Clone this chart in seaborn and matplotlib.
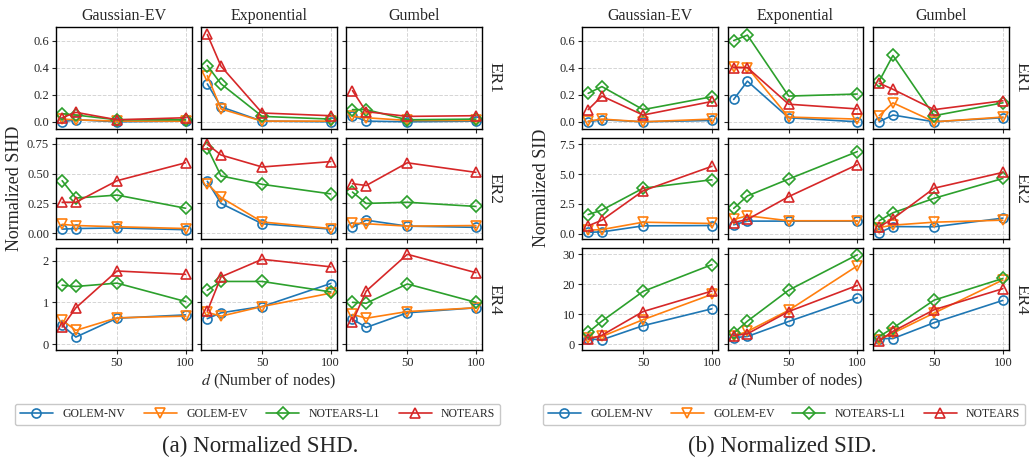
import matplotlib
matplotlib.use("Agg")
import numpy as np
import pandas as pd
import matplotlib.pyplot as plt
from matplotlib.lines import Line2D
from matplotlib.ticker import FormatStrFormatter
import seaborn as sns

# -----------------------------
# Data
# -----------------------------
nodes = [10, 20, 50, 100]
methods = ["GOLEM-NV", "GOLEM-EV", "NOTEARS-L1", "NOTEARS"]
noise_types = ["Gaussian-EV", "Exponential", "Gumbel"]
graph_types = ["ER1", "ER2", "ER4"]

# rows follow `methods`, columns follow `nodes`
shd_er1_gauss = [[0.00, 0.015, 0.00, 0.005], [0.02, 0.015, 0.005, 0.005],
                 [0.06, 0.05, 0.015, 0.015], [0.03, 0.07, 0.015, 0.03]]
shd_er1_exp = [[0.28, 0.11, 0.005, 0.00], [0.34, 0.095, 0.005, 0.005],
               [0.415, 0.28, 0.04, 0.02], [0.645, 0.41, 0.065, 0.045]]
shd_er1_gumbel = [[0.045, 0.005, 0.00, 0.005], [0.04, 0.03, 0.01, 0.01],
                  [0.09, 0.09, 0.015, 0.02], [0.23, 0.075, 0.04, 0.045]]

shd_er2_gauss = [[0.035, 0.04, 0.045, 0.03], [0.075, 0.065, 0.055, 0.04],
                 [0.44, 0.295, 0.32, 0.21], [0.26, 0.26, 0.44, 0.59]]
shd_er2_exp = [[0.435, 0.25, 0.08, 0.035], [0.415, 0.30, 0.095, 0.04],
               [0.715, 0.48, 0.41, 0.33], [0.745, 0.655, 0.555, 0.60]]
shd_er2_gumbel = [[0.05, 0.11, 0.06, 0.05], [0.085, 0.08, 0.06, 0.065],
                  [0.345, 0.25, 0.26, 0.225], [0.415, 0.40, 0.59, 0.51]]

shd_er4_gauss = [[0.45, 0.17, 0.62, 0.70], [0.57, 0.33, 0.63, 0.67],
                 [1.41, 1.38, 1.46, 1.02], [0.41, 0.87, 1.75, 1.67]]
shd_er4_exp = [[0.61, 0.75, 0.90, 1.45], [0.76, 0.67, 0.90, 1.22],
               [1.29, 1.50, 1.50, 1.25], [0.79, 1.61, 2.03, 1.85]]
shd_er4_gumbel = [[0.60, 0.40, 0.75, 0.87], [0.71, 0.62, 0.78, 0.87],
                  [1.00, 0.98, 1.44, 1.00], [0.54, 1.27, 2.15, 1.71]]

sid_er1_gauss = [[0.00, 0.015, 0.00, 0.01], [0.005, 0.02, 0.00, 0.02],
                 [0.21, 0.26, 0.09, 0.185], [0.09, 0.19, 0.05, 0.15]]
sid_er1_exp = [[0.165, 0.30, 0.03, 0.00], [0.405, 0.40, 0.035, 0.02],
               [0.60, 0.64, 0.19, 0.205], [0.40, 0.40, 0.13, 0.095]]
sid_er1_gumbel = [[0.00, 0.05, 0.00, 0.03], [0.045, 0.14, 0.00, 0.035],
                  [0.30, 0.49, 0.045, 0.14], [0.285, 0.24, 0.09, 0.155]]

sid_er2_gauss = [[0.11, 0.14, 0.65, 0.68], [0.28, 0.34, 0.96, 0.85],
                 [1.60, 1.98, 3.82, 4.53], [0.65, 1.13, 3.60, 5.66]]
sid_er2_exp = [[0.74, 1.05, 1.05, 1.05], [1.19, 1.50, 1.08, 1.08],
               [2.12, 3.17, 4.59, 6.90], [0.93, 1.19, 3.11, 5.80]]
sid_er2_gumbel = [[0.08, 0.59, 0.57, 1.30], [0.51, 0.71, 0.96, 1.13],
                  [1.08, 1.75, 2.97, 4.64], [0.57, 1.25, 3.82, 5.15]]

sid_er4_gauss = [[1.8, 1.5, 6.2, 11.8], [2.2, 2.6, 8.2, 16.6],
                 [4.0, 7.7, 17.6, 26.5], [1.7, 3.0, 10.9, 17.7]]
sid_er4_exp = [[2.2, 2.6, 7.6, 15.5], [2.7, 4.3, 11.3, 26.1],
               [3.7, 7.7, 18.0, 29.8], [2.9, 3.5, 10.9, 19.6]]
sid_er4_gumbel = [[1.9, 1.9, 7.2, 14.6], [1.5, 3.7, 10.4, 21.4],
                  [2.6, 5.4, 14.7, 21.9], [1.2, 4.3, 11.5, 18.5]]

results = {
    ("SHD", "ER1"): [shd_er1_gauss, shd_er1_exp, shd_er1_gumbel],
    ("SHD", "ER2"): [shd_er2_gauss, shd_er2_exp, shd_er2_gumbel],
    ("SHD", "ER4"): [shd_er4_gauss, shd_er4_exp, shd_er4_gumbel],
    ("SID", "ER1"): [sid_er1_gauss, sid_er1_exp, sid_er1_gumbel],
    ("SID", "ER2"): [sid_er2_gauss, sid_er2_exp, sid_er2_gumbel],
    ("SID", "ER4"): [sid_er4_gauss, sid_er4_exp, sid_er4_gumbel],
}

rows = []
for (metric, graph), tables in results.items():
    for noise, table in zip(noise_types, tables):
        for method, vals in zip(methods, table):
            for d, v in zip(nodes, vals):
                rows.append((metric, graph, noise, method, d, v))
df = pd.DataFrame(rows, columns=["metric", "graph", "noise", "method", "d", "value"])

# -----------------------------
# Style
# -----------------------------
sns.set_theme(style="ticks")
plt.rcParams["font.family"] = ["Liberation Serif", "DejaVu Serif"]
plt.rcParams["mathtext.fontset"] = "stix"
plt.rcParams["axes.edgecolor"] = "black"
plt.rcParams["axes.linewidth"] = 1.0

palette = dict(zip(methods, sns.color_palette("tab10", 4)))
markers = dict(zip(methods, ["o", "v", "D", "^"]))

panel_cfg = {
    "SHD": {
        "ylims": [(-0.05, 0.70), (-0.05, 0.80), (-0.14, 2.29)],
        "yticks": [[0, 0.2, 0.4, 0.6], [0, 0.25, 0.5, 0.75], [0, 1, 2]],
        "fmts": ["%.1f", "%.2f", "%.0f"],
        "left": 56, "right": 482, "ylab_x": 15,
        "legend_x": (15, 500), "caption": "(a) Normalized SHD.", "cap_x": 260,
    },
    "SID": {
        "ylims": [(-0.05, 0.70), (-0.48, 8.07), (-1.9, 31.9)],
        "yticks": [[0, 0.2, 0.4, 0.6], [0, 2.5, 5.0, 7.5], [0, 10, 20, 30]],
        "fmts": ["%.1f", "%.1f", "%.0f"],
        "left": 582, "right": 1009, "ylab_x": 542,
        "legend_x": (543, 1025), "caption": "(b) Normalized SID.", "cap_x": 782,
    },
}

W, H = 1029, 463
fig = plt.figure(figsize=(W / 100, H / 100), dpi=100)

for metric, cfg in panel_cfg.items():
    gs = fig.add_gridspec(3, 3, left=cfg["left"] / W, right=cfg["right"] / W,
                          top=1 - 27 / H, bottom=1 - 350 / H,
                          wspace=0.07, hspace=0.09)
    for r, graph in enumerate(graph_types):
        for c, noise in enumerate(noise_types):
            ax = fig.add_subplot(gs[r, c])
            sub = df[(df.metric == metric) & (df.graph == graph) & (df.noise == noise)]
            sns.lineplot(data=sub, x="d", y="value", hue="method", style="method",
                         hue_order=methods, style_order=methods, palette=palette,
                         markers=markers, dashes=False, markersize=6.5,
                         linewidth=1.2, legend=False, ax=ax)
            # hollow markers in the line colour
            for ln in ax.lines:
                ln.set_markerfacecolor("none")
                ln.set_markeredgecolor(ln.get_color())
                ln.set_markeredgewidth(1.2)
            ax.set_xlim(5.5, 104.5)
            ax.set_ylim(*cfg["ylims"][r])
            ax.set_xticks([50, 100])
            ax.set_yticks(cfg["yticks"][r])
            ax.yaxis.set_major_formatter(FormatStrFormatter(cfg["fmts"][r]))
            ax.grid(True, linestyle="--", color="#d5d5d5", linewidth=0.7)
            ax.set_axisbelow(True)
            ax.tick_params(labelsize=9, length=3, width=0.8, pad=2)
            ax.set_xlabel("")
            ax.set_ylabel("")
            for s in ax.spines.values():
                s.set_visible(True)
                s.set_color("black")
            if c > 0:
                ax.tick_params(labelleft=False)
            if r < 2:
                ax.tick_params(labelbottom=False)
            if r == 0:
                ax.set_title(noise, fontsize=11.5, pad=5)
            if c == 2:
                ax.text(1 + 12 / 135, 0.5, graph, transform=ax.transAxes, rotation=270,
                        ha="center", va="center", fontsize=12.5)

    xc = (cfg["left"] + cfg["right"]) / 2 / W
    fig.text(cfg["ylab_x"] / W, 1 - 188 / H, f"Normalized {metric}", rotation=90,
             ha="center", va="center", fontsize=13)
    fig.text(xc, 1 - 381 / H, "$d$ (Number of nodes)", ha="center", va="center",
             fontsize=11.5)

    handles = [Line2D([], [], color=palette[m], marker=markers[m], markersize=6.5,
                      markerfacecolor="none", markeredgewidth=1.2, linewidth=1.2)
               for m in methods]
    lx0, lx1 = cfg["legend_x"]
    fig.legend(handles, methods, loc="lower left", ncol=4, mode="expand",
               bbox_to_anchor=(lx0 / W, 1 - 425 / H, (lx1 - lx0) / W, 27 / H),
               fontsize=8.5, frameon=True, edgecolor="#bbbbbb", fancybox=True,
               handlelength=2.8, borderaxespad=0)
    fig.text(cfg["cap_x"] / W, 1 - 446 / H, cfg["caption"], ha="center", va="center",
             fontsize=16.5)

fig.savefig("out.png", dpi=100)
